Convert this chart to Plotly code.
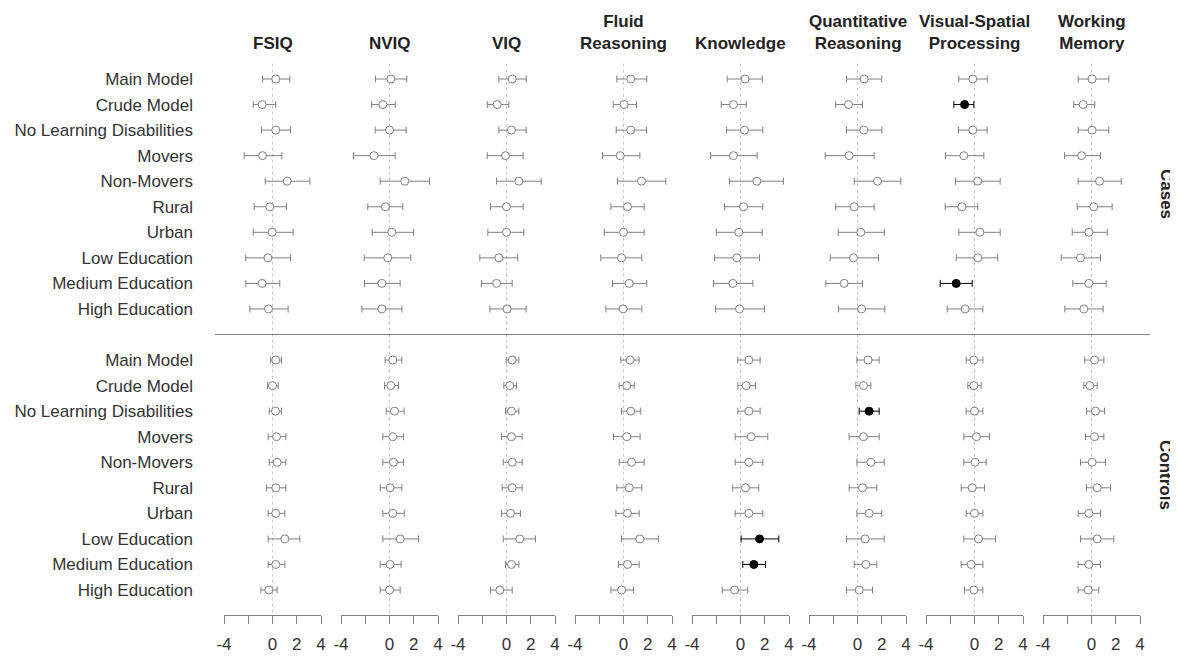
import plotly.graph_objects as go

# ---------------- data ----------------
measures = ["FSIQ", "NVIQ", "VIQ", "Fluid<br>Reasoning", "Knowledge",
            "Quantitative<br>Reasoning", "Visual-Spatial<br>Processing", "Working<br>Memory"]
models = ["Main Model", "Crude Model", "No Learning Disabilities", "Movers", "Non-Movers",
          "Rural", "Urban", "Low Education", "Medium Education", "High Education"]
groups = ["Cases", "Controls"]
x_ticks = [-4, -2, 0, 2, 4]
x_tick_text = ["-4", "", "0", "2", "4"]

# rows = models, columns = measures
cases_est = [
    [0.27, 0.11, 0.47, 0.60, 0.38, 0.55, -0.14, 0.05],
    [-0.85, -0.55, -0.77, 0.05, -0.58, -0.74, -0.82, -0.69],
    [0.27, 0.00, 0.41, 0.60, 0.33, 0.52, -0.14, 0.05],
    [-0.82, -1.29, -0.08, -0.27, -0.58, -0.69, -0.88, -0.82],
    [1.21, 1.26, 1.02, 1.48, 1.35, 1.65, 0.27, 0.66],
    [-0.22, -0.33, 0.00, 0.33, 0.25, -0.27, -1.04, 0.19],
    [-0.03, 0.19, 0.00, 0.00, -0.14, 0.27, 0.44, -0.22],
    [-0.38, -0.14, -0.63, -0.16, -0.30, -0.33, 0.27, -0.91],
    [-0.85, -0.63, -0.82, 0.47, -0.63, -1.10, -1.51, -0.22],
    [-0.33, -0.63, 0.05, -0.03, -0.08, 0.33, -0.77, -0.63],
]
cases_lo = [
    [-0.82, -1.15, -0.63, -0.55, -1.10, -0.91, -1.29, -1.10],
    [-1.59, -1.46, -1.59, -0.85, -1.59, -1.79, -1.70, -1.46],
    [-0.91, -1.18, -0.63, -0.60, -1.15, -0.91, -1.32, -1.10],
    [-2.34, -2.97, -1.59, -1.73, -2.47, -2.66, -2.39, -2.22],
    [-0.60, -0.77, -0.82, -0.49, -0.91, -0.27, -1.57, -1.10],
    [-1.51, -1.79, -1.32, -1.04, -1.32, -1.79, -2.42, -1.18],
    [-1.59, -1.43, -1.54, -1.59, -2.00, -1.59, -1.29, -1.59],
    [-2.20, -2.09, -2.20, -1.87, -2.14, -2.25, -1.51, -2.50],
    [-2.20, -2.06, -2.06, -0.91, -2.22, -2.61, -2.83, -1.54],
    [-1.87, -2.28, -1.37, -1.46, -2.06, -1.57, -2.25, -2.20],
]
cases_hi = [
    [1.43, 1.43, 1.62, 1.92, 1.79, 2.00, 1.04, 1.43],
    [0.27, 0.47, 0.19, 1.07, 0.47, 0.41, -0.05, 0.27],
    [1.48, 1.37, 1.62, 1.90, 1.84, 2.00, 1.04, 1.43],
    [0.77, 0.47, 1.37, 1.35, 1.37, 1.37, 0.77, 0.74],
    [3.08, 3.30, 2.86, 3.49, 3.54, 3.57, 2.12, 2.45],
    [1.15, 1.10, 1.37, 1.70, 1.84, 1.37, 0.27, 1.70],
    [1.70, 1.98, 1.43, 1.70, 1.79, 2.20, 2.12, 1.29],
    [1.48, 1.76, 0.93, 1.51, 1.57, 1.73, 1.92, 0.74],
    [0.60, 0.88, 0.47, 1.92, 1.02, 0.41, -0.19, 1.21],
    [1.29, 1.02, 1.62, 1.51, 1.98, 2.25, 0.69, 0.96],
]
controls_est = [
    [0.27, 0.27, 0.47, 0.55, 0.69, 0.88, -0.05, 0.25],
    [0.00, 0.11, 0.27, 0.27, 0.47, 0.49, -0.05, -0.14],
    [0.25, 0.41, 0.41, 0.60, 0.69, 0.96, 0.00, 0.33],
    [0.33, 0.27, 0.41, 0.27, 0.88, 0.49, 0.16, 0.25],
    [0.38, 0.33, 0.47, 0.66, 0.69, 1.10, 0.05, 0.05],
    [0.27, 0.05, 0.47, 0.47, 0.41, 0.41, -0.19, 0.47],
    [0.27, 0.27, 0.33, 0.33, 0.69, 0.96, 0.00, -0.22],
    [1.02, 0.88, 1.10, 1.35, 1.57, 0.63, 0.33, 0.47],
    [0.27, 0.05, 0.41, 0.33, 1.10, 0.69, -0.27, -0.22],
    [-0.30, 0.00, -0.55, -0.16, -0.49, 0.14, -0.05, -0.27],
]
controls_lo = [
    [-0.16, -0.36, -0.02, -0.22, -0.22, -0.05, -0.69, -0.55],
    [-0.41, -0.41, -0.22, -0.36, -0.22, -0.14, -0.55, -0.63],
    [-0.27, -0.27, -0.08, -0.16, -0.22, 0.14, -0.69, -0.41],
    [-0.36, -0.55, -0.41, -0.82, -0.44, -0.69, -0.88, -0.49],
    [-0.27, -0.55, -0.27, -0.36, -0.44, -0.05, -0.88, -0.91],
    [-0.49, -0.77, -0.36, -0.55, -0.63, -0.69, -1.10, -0.41],
    [-0.36, -0.55, -0.41, -0.63, -0.44, -0.05, -0.69, -1.10],
    [-0.36, -0.55, -0.27, -0.16, 0.05, -0.91, -0.88, -0.91],
    [-0.36, -0.77, -0.08, -0.41, 0.19, -0.27, -1.10, -1.10],
    [-0.96, -0.77, -1.32, -1.04, -1.51, -0.91, -0.82, -1.10],
]
controls_hi = [
    [0.74, 1.02, 1.02, 1.29, 1.62, 1.79, 0.69, 1.02],
    [0.47, 0.74, 0.82, 0.88, 1.24, 1.10, 0.55, 0.47],
    [0.74, 1.21, 1.02, 1.43, 1.62, 1.79, 0.69, 1.07],
    [1.10, 1.15, 1.29, 1.37, 2.25, 1.79, 1.24, 1.02],
    [1.10, 1.15, 1.29, 1.70, 1.84, 2.20, 0.96, 1.15],
    [1.10, 1.02, 1.29, 1.51, 1.51, 1.59, 0.82, 1.57],
    [1.02, 1.21, 1.15, 1.29, 1.84, 2.00, 0.69, 0.74],
    [2.25, 2.39, 2.39, 2.88, 3.16, 2.20, 1.73, 1.84],
    [1.02, 0.96, 1.02, 1.29, 2.06, 1.59, 0.69, 0.74],
    [0.38, 0.88, 0.47, 0.82, 0.60, 1.24, 0.69, 0.60],
]

# ---------------- layout geometry ----------------
W, H = 1178, 659
OFF = 8  # page body margin: screen px = paper px + OFF
FONT = "Liberation Sans, Arial, Helvetica, sans-serif"
GRAY = "#808080"
n_rows = len(models)
# slot positions: cases 0..9, gap 10, controls 11..20
slots_cases = list(range(n_rows))
slots_controls = [n_rows + 1 + i for i in range(n_rows)]
all_slots = slots_cases + slots_controls
all_labels = models + models

panel_left0, panel_step, panel_w = 224 - OFF, 117, 97
y_top_px, y_bot_px = 58 - OFF, 615 - OFF
row0_px, row_step_px = 79 - OFF, 25.55
y_range = [(y_bot_px - row0_px) / row_step_px, (y_top_px - row0_px) / row_step_px]

fig = go.Figure()

group_data = [
    (slots_cases, cases_est, cases_lo, cases_hi),
    (slots_controls, controls_est, controls_lo, controls_hi),
]

for j, meas in enumerate(measures):
    xname = "x" if j == 0 else f"x{j+1}"
    for sig in (False, True):
        xs, ys, plus, minus = [], [], [], []
        for slots, est, lo, hi in group_data:
            for i in range(n_rows):
                e, l, h = est[i][j], lo[i][j], hi[i][j]
                is_sig = (l > 0) or (h < 0)
                if is_sig != sig:
                    continue
                xs.append(e)
                ys.append(slots[i])
                plus.append(h - e)
                minus.append(e - l)
        if not xs:
            continue
        col = "black" if sig else GRAY
        fig.add_trace(go.Scatter(
            x=xs, y=ys, xaxis=xname, yaxis="y", mode="markers",
            marker=dict(symbol="circle", size=8,
                        color="black" if sig else "white",
                        line=dict(color=col, width=1)),
            error_x=dict(type="data", symmetric=False, array=plus, arrayminus=minus,
                         color=col, thickness=1, width=3.5),
            showlegend=False, hoverinfo="skip", cliponaxis=False,
        ))

layout = dict(
    width=W, height=H,
    margin=dict(l=0, r=0, t=0, b=0, autoexpand=False),
    paper_bgcolor="white", plot_bgcolor="white",
    font=dict(family=FONT, size=17, color="#333333"),
    showlegend=False,
    yaxis=dict(
        domain=[1 - y_bot_px / H, 1 - y_top_px / H],
        range=y_range, anchor="free", position=(193 - OFF) / W,
        tickvals=all_slots, ticktext=all_labels, ticks="",
        showgrid=False, zeroline=False, showline=False, automargin=False,
        tickfont=dict(size=17, color="#333333"),
    ),
)
shapes = []
annotations = []
for j, meas in enumerate(measures):
    key = "xaxis" if j == 0 else f"xaxis{j+1}"
    left = panel_left0 + j * panel_step
    layout[key] = dict(
        domain=[left / W, (left + panel_w) / W],
        range=[-4, 4], anchor="y",
        tickvals=x_ticks, ticktext=x_tick_text,
        ticks="outside", ticklen=8, tickcolor=GRAY, tickwidth=1,
        showline=True, linecolor=GRAY, linewidth=1,
        showgrid=False, zeroline=False, automargin=False,
        ticklabelstandoff=6,
        tickfont=dict(size=17, color="#333333"),
    )
    xref = "x" if j == 0 else f"x{j+1}"
    shapes.append(dict(type="line", xref=xref, yref="y", x0=0, x1=0,
                       y0=-0.6, y1=y_range[0] - 0.05,
                       line=dict(color="#c8c8c8", width=1, dash="dot"), layer="below"))
    annotations.append(dict(text=f"<b>{meas}</b>", xref=f"{xref} domain", x=0.5,
                            yref="paper", y=1 - (55 - OFF) / H, yanchor="bottom", xanchor="center",
                            showarrow=False, font=dict(size=17, color="#222222", family=FONT)))

shapes.append(dict(type="line", xref="paper", yref="y", x0=(215 - OFF) / W, x1=(1150 - OFF) / W,
                   y0=n_rows, y1=n_rows, line=dict(color=GRAY, width=1)))

for g, slots in zip(groups, [slots_cases, slots_controls]):
    annotations.append(dict(text=f"<b>{g}</b>", xref="paper", x=(1166 - OFF) / W,
                            yref="y", y=(slots[0] + slots[-1]) / 2, textangle=90,
                            showarrow=False, xanchor="center", yanchor="middle",
                            font=dict(size=17, color="#222222", family=FONT)))

layout["shapes"] = shapes
layout["annotations"] = annotations
fig.update_layout(**layout)
fig.write_html("out.html")
